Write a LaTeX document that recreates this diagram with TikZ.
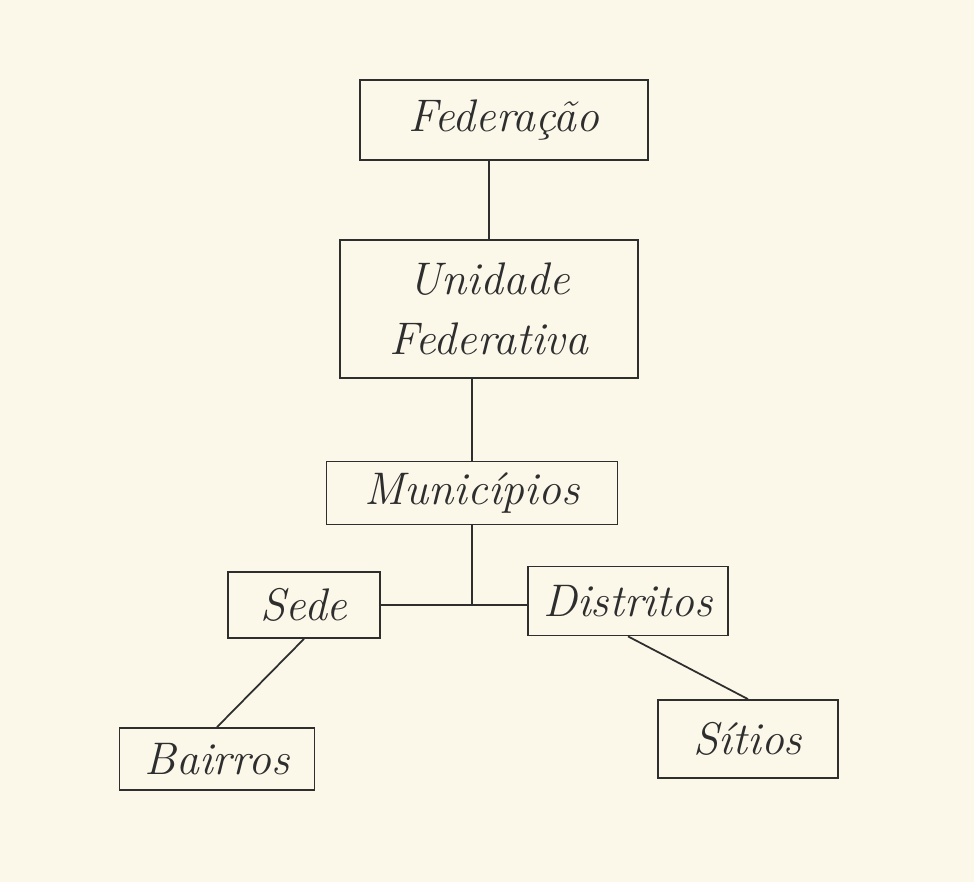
\documentclass[tikz,border=0pt]{standalone}
\usepackage{tikz}
\usetikzlibrary{calc}
\definecolor{paper}{HTML}{FBF8EA}
\definecolor{ink}{HTML}{2E2E2E}
\tikzset{
  box/.style= {draw=ink, line width=1pt, inner sep=0pt, text=ink,
    font=\fontsize{26}{34}\selectfont\itshape},
  link/.style= {draw=ink, line width=1pt},
}

\begin{document}
\begin{tikzpicture}[x=0.02cm, y=-0.02cm]
  \fill [paper] (0,0) rectangle (974,882) ;
  \useasboundingbox (0,0) rectangle (974,882) ;

  \node [box, minimum width=5.76cm, minimum height=1.6cm] (fed) at (504,120) {Federação} ;
  \node [box, minimum width=5.96cm, minimum height=2.76cm, align=center] (uf) at (489,309) {Unidade\\Federativa} ;
  \node [box, minimum width=5.82cm, minimum height=1.26cm] (mun) at (472,493) {Municípios} ;
  \node [box, minimum width=3.04cm, minimum height=1.32cm] (sede) at (304,605) {Sede} ;
  \node [box, minimum width=4.0cm, minimum height=1.38cm] (dist) at (628,601) {Distritos} ;
  \node [box, minimum width=3.9cm, minimum height=1.24cm] (bai) at (217,759) {Bairros} ;
  \node [box, minimum width=3.6cm, minimum height=1.56cm] (sit) at (748,739) {Sítios} ;
  \coordinate (junc) at (mun.south |- sede.east) ;

  \draw [link] (fed.south -| uf.north) -- (uf.north) ;
  \draw [link] (uf.south -| mun.north) -- (mun.north) ;
  \draw [link] (mun.south) -- (junc) ;
  \draw [link] (sede.east) -- (dist.west |- sede.east) ;
  \draw [link] (sede.south) -- (bai.north) ;
  \draw [link] (dist.south) -- (sit.north) ;
\end{tikzpicture}
\end{document}
